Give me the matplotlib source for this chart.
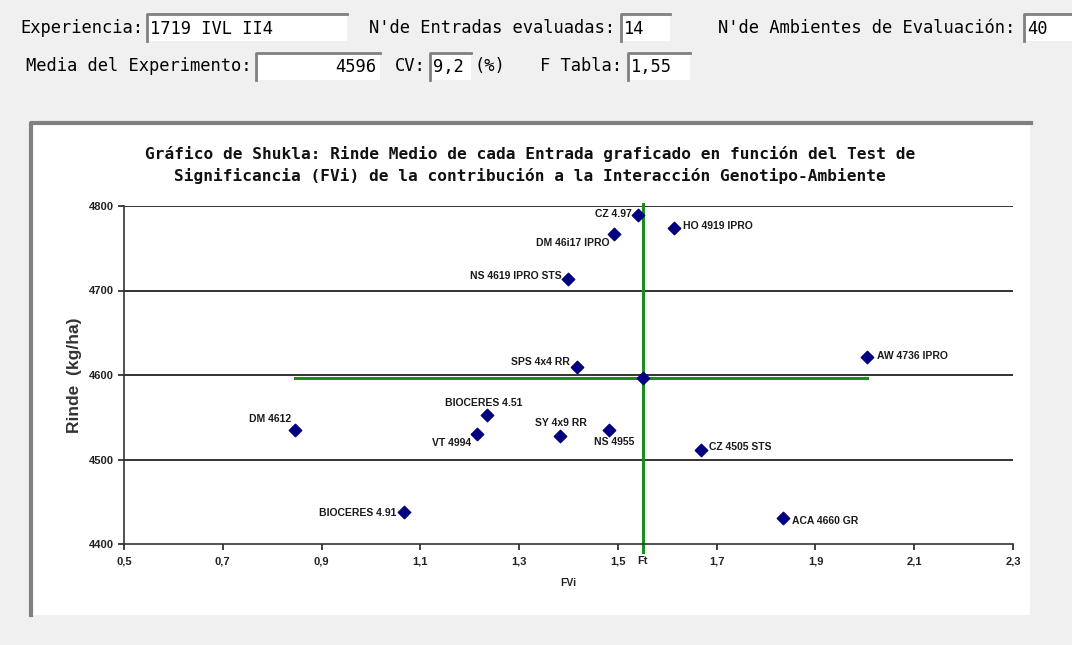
import matplotlib

matplotlib.use("Agg")
import matplotlib.pyplot as plt
from matplotlib.patches import Rectangle
from matplotlib.lines import Line2D

# header values
experiencia = "1719 IVL II4"
n_entradas = "14"
n_ambientes = "40"
media_exp = "4596"
cv = "9,2"
f_tabla = "1,55"

# chart data
entradas = ["CZ 4.97", "DM 46i17 IPRO", "HO 4919 IPRO", "NS 4619 IPRO STS", "SPS 4x4 RR",
            "AW 4736 IPRO", "BIOCERES 4.51", "DM 4612", "VT 4994", "SY 4x9 RR",
            "NS 4955", "CZ 4505 STS", "BIOCERES 4.91", "ACA 4660 GR"]
fvi = [1.54, 1.493, 1.613, 1.40, 1.418, 2.004, 1.235, 0.847, 1.214, 1.382,
       1.483, 1.668, 1.066, 1.834]
rinde = [4789, 4767, 4774, 4714, 4609, 4621, 4553, 4535, 4530, 4528,
         4535, 4511, 4438, 4431]
ft = 1.55
media = 4596
x_ticks = [0.5, 0.7, 0.9, 1.1, 1.3, 1.5, 1.7, 1.9, 2.1, 2.3]
x_ticklabels = ["0,5", "0,7", "0,9", "1,1", "1,3", "1,5", "1,7", "1,9", "2,1", "2,3"]
y_ticks = [4400, 4500, 4600, 4700, 4800]

# label placement (offset in pixels, horizontal alignment)
label_pos = {
    "CZ 4.97": (-6, 1, "right"),
    "DM 46i17 IPRO": (-5, -9, "right"),
    "HO 4919 IPRO": (9, 2, "left"),
    "NS 4619 IPRO STS": (-7, 3, "right"),
    "SPS 4x4 RR": (-8, 5, "right"),
    "AW 4736 IPRO": (10, 1, "left"),
    "BIOCERES 4.51": (-3, 12, "center"),
    "DM 4612": (-4, 11, "right"),
    "VT 4994": (-6, -9, "right"),
    "SY 4x9 RR": (1, 13, "center"),
    "NS 4955": (5, -12, "center"),
    "CZ 4505 STS": (8, 3, "left"),
    "BIOCERES 4.91": (-7, -1, "right"),
    "ACA 4660 GR": (9, -3, "left"),
}

W, H = 1072, 645
fig = plt.figure(figsize=(W / 100, H / 100), dpi=100, facecolor="#f0f0f0")
MONO = "DejaVu Sans Mono"
HFS = 12.3


def fx(px):
    return px / W


def fy(py):
    return 1 - py / H


def sunken_box(x0, y0, x1, y1, text, align="left"):
    fig.patches.append(Rectangle((fx(x0), fy(y1)), fx(x1 - x0), (y1 - y0) / H, zorder=-2,
                                 transform=fig.transFigure, facecolor="white", edgecolor="none"))
    fig.lines.append(Line2D([fx(x0), fx(x0), fx(x1)], [fy(y1), fy(y0), fy(y0)], zorder=-1,
                            transform=fig.transFigure, color="#808080", lw=2))
    if align == "left":
        fig.text(fx(x0 + 3), fy((y0 + y1) / 2 + 1), text, ha="left", va="center",
                 family=MONO, fontsize=HFS)
    else:
        fig.text(fx(x1 - 4), fy((y0 + y1) / 2 + 1), text, ha="right", va="center",
                 family=MONO, fontsize=HFS)


def label(px, py, text):
    fig.text(fx(px), fy(py), text, ha="left", va="center", family=MONO, fontsize=HFS)


label(20, 28, "Experiencia:")
sunken_box(147, 14, 347, 41, experiencia)
label(369, 28, "N'de Entradas evaluadas:")
sunken_box(621, 14, 670, 41, n_entradas)
label(718, 28, "N'de Ambientes de Evaluación:")
sunken_box(1024, 14, 1075, 41, n_ambientes)
label(26, 66, "Media del Experimento:")
sunken_box(256, 53, 380, 80, media_exp, align="right")
label(395, 66, "CV:")
sunken_box(430, 53, 471, 80, cv)
label(474, 66, "(%)")
label(540, 66, "F Tabla:")
sunken_box(628, 53, 690, 80, f_tabla)

# chart panel
fig.patches.append(Rectangle((fx(30), fy(615)), fx(1000), 493 / H, transform=fig.transFigure,
                             facecolor="white", edgecolor="none", zorder=-2))
fig.lines.append(Line2D([fx(31), fx(31), fx(1031)], [fy(615), fy(123), fy(123)], zorder=-1,
                        transform=fig.transFigure, color="#808080", lw=3))

fig.text(fx(530), fy(165), "Gráfico de Shukla: Rinde Medio de cada Entrada graficado en función del Test de\n"
         "Significancia (FVi) de la contribución a la Interacción Genotipo-Ambiente",
         ha="center", va="center", family=MONO, fontweight="bold", color="#111111",
         fontsize=11.6, linespacing=1.45)

ax = fig.add_axes([fx(124), fy(544), fx(1013 - 124), (544 - 206) / H])
ax.set_zorder(1)
ax.set_facecolor("white")
ax.set_xlim(0.5, 2.3)
ax.set_ylim(4400, 4800)
for yv in y_ticks[1:]:
    ax.axhline(yv, color="#111111", lw=1.2, zorder=1)
ax.spines["top"].set_visible(False)
ax.spines["right"].set_visible(False)
ax.spines["left"].set_linewidth(1.2)
ax.spines["bottom"].set_linewidth(1.2)
ax.spines["left"].set_color("#333333")
ax.spines["bottom"].set_color("#333333")

ax.plot([min(fvi), max(fvi)], [media, media], color="#1e8c1e", lw=2.2, zorder=2)
ax.plot([ft, ft], [4390, 4802], color="#1e8c1e", lw=2.2, zorder=2, clip_on=False)
ax.scatter(fvi + [ft], rinde + [media], marker="D", s=40, color="#000080", zorder=3, clip_on=False)

for name, xv, yv in zip(entradas, fvi, rinde):
    dx, dy, ha = label_pos[name]
    ax.annotate(name, (xv, yv), xytext=(dx, dy), textcoords="offset pixels", ha=ha, va="center",
                family="Liberation Sans", fontweight="bold", fontsize=7.5, color="#1a1a1a")

ax.set_xticks(x_ticks + [ft], x_ticklabels + ["Ft"])
ax.set_yticks(y_ticks, [str(v) for v in y_ticks])
ax.tick_params(axis="both", length=4, width=1.2, labelsize=8, colors="#222222")
ax.tick_params(axis="x", pad=5)
for t in ax.get_xticklabels() + ax.get_yticklabels():
    t.set_family("Liberation Sans")
    t.set_fontweight("bold")
ax.set_xlabel("FVi", family="Liberation Sans", fontweight="bold", fontsize=7.5, labelpad=8,
              color="#222222")
ax.set_ylabel("Rinde  (kg/ha)", family="Liberation Sans", fontweight="bold", fontsize=12.5,
              labelpad=5, color="#333333")

fig.savefig("out.png", dpi=100, facecolor=fig.get_facecolor())
